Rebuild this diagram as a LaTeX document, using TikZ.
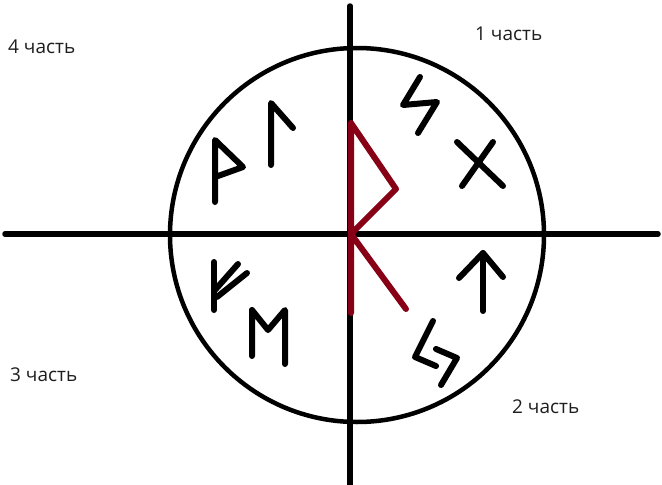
\documentclass[tikz,border=0pt]{standalone}
\usepackage{fontspec}
\setmainfont{Open Sans}
\definecolor{runered}{RGB}{136,0,21}
\definecolor{labelcol}{RGB}{30,30,30}
\tikzset{
  axis/.style={line width=5.5pt, line cap=round},
  ring/.style={line width=4.5pt},
  rune/.style={line width=6pt, line cap=round, line join=round},
  redrune/.style={line width=6pt, line cap=round, line join=round, draw=runered},
  partlabel/.style={anchor=base west, inner sep=0pt, text=labelcol, font=\fontsize{19}{22}\selectfont},
}
\begin{document}
\begin{tikzpicture}[x=1pt, y=-1pt]
\useasboundingbox (0,0) rectangle (662,485);
\fill[white] (0,0) rectangle (662,485);
% axes and circle
\draw[axis] (5,234) -- (658,234);
\draw[axis] (350,6) -- (350,485);
\draw[ring] (357,235) circle[radius=187];
% red bindrune
\draw[redrune] (351,313) -- (351,123) -- (396,189) -- (351,234) -- (406,309);
% quadrant 4: wunjo and laguz
\draw[rune] (215,202) -- (215,140) -- (243,167) -- (218,176);
\draw[rune] (271,165) -- (271,103) -- (293,128);
% quadrant 1: sowilo and gebo
\draw[rune] (420,77) -- (403,105) -- (437,102) -- (418,133);
\draw[rune] (457,142) -- (503,186);
\draw[rune] (493,142) -- (462,186);
% quadrant 2: tiwaz and zigzag
\draw[rune] (483,311) -- (483,253);
\draw[rune] (459,278) -- (483,253) -- (503,277);
\draw[rune] (433,321) -- (415,357) -- (436,366);
\draw[rune] (436,349) -- (457,358) -- (441,385);
% quadrant 3: fehu and mannaz
\draw[rune] (214,262) -- (214,310);
\draw[rune] (215,290) -- (238,264);
\draw[rune] (217,297) -- (247,273);
\draw[rune] (252,356) -- (252,310) -- (268,330) -- (285,310) -- (285,364);
% labels
\node[partlabel] (p4) at (8,53) {4 часть};
\node[partlabel] (p1) at (475,40) {1 часть};
\node[partlabel] (p3) at (10,381) {3 часть};
\node[partlabel] (p2) at (512,413) {2 часть};
\end{tikzpicture}
\end{document}
